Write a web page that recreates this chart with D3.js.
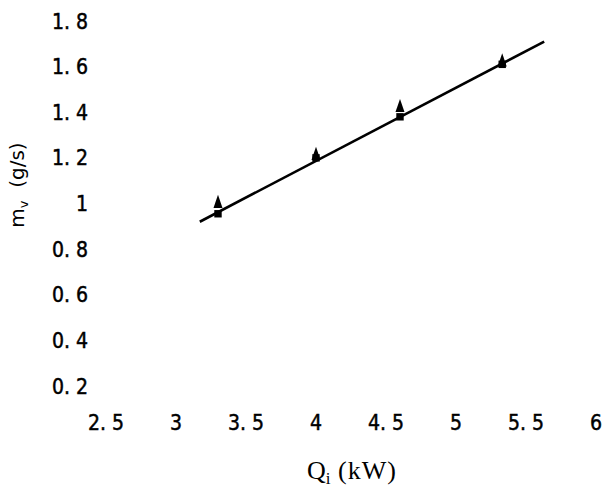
<!DOCTYPE html>
<html>
<head>
<meta charset="utf-8">
<script src="https://cdn.jsdelivr.net/npm/d3@7"></script>
<style>
  body { margin: 0; background: #fff; }
  svg { display: block; }
  .tick-label { font-family: "DejaVu Sans Condensed", "DejaVu Sans", sans-serif; font-size: 21px; fill: #000; stroke: #000; stroke-width: 0.45px; }
</style>
</head>
<body>
<svg width="608" height="490"></svg>
<script>
// data
var xTicks = [2.5, 3, 3.5, 4, 4.5, 5, 5.5, 6];
var yTicks = [0.2, 0.4, 0.6, 0.8, 1, 1.2, 1.4, 1.6, 1.8];

var qi = [3.3, 4.0, 4.6, 5.33];          // kW
var mvTri = [1.0, 1.21, 1.42, 1.62];      // triangles
var mvSq = [0.955, 1.2, 1.38, 1.61];      // squares

var fitX = [3.17, 5.63];
var fitY = [0.92, 1.71];

var svg = d3.select("svg");

// scales
var x = d3.scaleLinear().domain([2.5, 6]).range([106, 596]);
var y = d3.scaleLinear().domain([0.2, 1.8]).range([386, 21]);

function fmt(v) {
  // the labels have a gap after the decimal point
  return String(v).replace(".", ". ");
}

// y tick labels (no axis line in the original)
svg.append("g").selectAll("text")
  .data(yTicks)
  .enter().append("text")
    .attr("class", "tick-label")
    .attr("x", 88)
    .attr("y", function(d) { return y(d); })
    .attr("dy", "0.36em")
    .attr("text-anchor", "end")
    .text(fmt);

// x tick labels
svg.append("g").selectAll("text")
  .data(xTicks)
  .enter().append("text")
    .attr("class", "tick-label")
    .attr("x", function(d) { return x(d); })
    .attr("y", 422)
    .attr("dy", "0.36em")
    .attr("text-anchor", "middle")
    .text(fmt);

// fitted line
var fit = fitX.map(function(d, i) { return [d, fitY[i]]; });
svg.append("path")
  .datum(fit)
  .attr("fill", "none")
  .attr("stroke", "#000")
  .attr("stroke-width", 2.6)
  .attr("d", d3.line()
    .x(function(d) { return x(d[0]); })
    .y(function(d) { return y(d[1]); }));

// square markers
svg.append("g").selectAll("path")
  .data(qi)
  .enter().append("path")
    .attr("d", d3.symbol().type(d3.symbolSquare).size(55))
    .attr("transform", function(d, i) { return "translate(" + x(d) + "," + y(mvSq[i]) + ")"; })
    .attr("fill", "#000");

// triangle markers (tall and narrow)
svg.append("g").selectAll("path")
  .data(qi)
  .enter().append("path")
    .attr("d", d3.symbol().type(d3.symbolTriangle).size(55))
    .attr("transform", function(d, i) {
      return "translate(" + x(d) + "," + y(mvTri[i]) + ") scale(0.8,1.35)";
    })
    .attr("fill", "#000");

// axis titles
var yt = svg.append("text")
  .attr("transform", "translate(24,185) rotate(-90)")
  .attr("text-anchor", "middle")
  .style("font-family", "\"DejaVu Sans\", Verdana, sans-serif")
  .style("font-size", "20px");
yt.append("tspan").text("m");
yt.append("tspan").attr("dy", 4).style("font-size", "13px").text("v");
yt.append("tspan").attr("dy", -4).text("\u00a0\u00a0(g/s)");

var xt = svg.append("text")
  .attr("x", 352)
  .attr("y", 479)
  .attr("text-anchor", "middle")
  .style("font-family", "\"Liberation Serif\", \"Times New Roman\", serif")
  .style("font-size", "26px");
xt.append("tspan").text("Q");
xt.append("tspan").attr("dy", 5).style("font-size", "17px").text("i");
xt.append("tspan").attr("dy", -5).style("letter-spacing", "1px").text(" (kW)");
</script>
</body>
</html>
